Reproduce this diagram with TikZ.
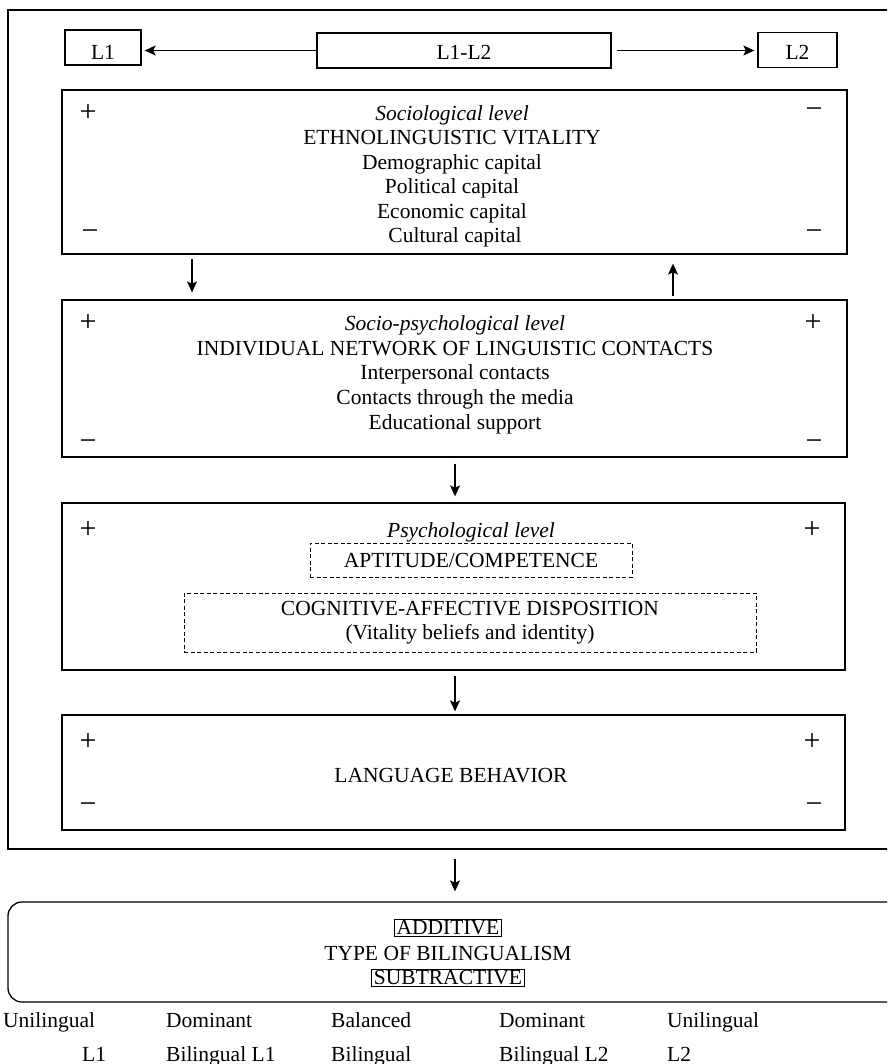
\documentclass[tikz,border=0pt]{standalone}
\usepackage{fontspec}
\setmainfont{Liberation Serif}
\usetikzlibrary{arrows.meta}
\begin{document}
\begin{tikzpicture}[x=1pt,y=-1pt,
  every node/.style={font=\fontsize{21.5}{24.5}\selectfont},
  frame/.style={draw, line width=1.3pt, inner sep=0pt},
  dbox/.style={draw, dashed, dash pattern=on 4pt off 2.5pt, line width=1pt, inner sep=0pt},
  ln/.style={anchor=base, inner sep=0pt},
  lw/.style={anchor=base west, inner sep=0pt},
  sg/.style={inner sep=0pt, font=\fontsize{30}{30}\selectfont},
  tbox/.style={draw, line width=0.9pt, inner xsep=2pt, inner ysep=1pt},
  arr/.style={-{Stealth[length=11pt,width=10pt,inset=2.5pt]}, line width=1.2pt}]
\clip (0,0) rectangle (887,1064);
% outer frame
\node[frame, minimum width=892, minimum height=839] (outer) at (454,429.5) {};
% top row
\node[frame, minimum width=76, minimum height=35] (L1) at (103,47.5) {};
\node[inner sep=0pt] (L1t) at (103,52) {L1};
\node[frame, minimum width=294, minimum height=35] (L12) at (464,50.5) {};
\node[inner sep=0pt] (L12t) at (464,52) {L1-L2};
\node[frame, minimum width=79, minimum height=35] (L2) at (797.5,50) {};
\node[inner sep=0pt] (L2t) at (797.5,52) {L2};
\draw[arr, shorten >=3pt] (L12.west) -- (L12.west -| L1.east);
\draw[arr, shorten <=5pt, shorten >=3pt] (L12.east) -- (L12.east -| L2.west);
% box 1
\node[frame, minimum width=785, minimum height=164] (b1) at (454.5,172) {};
\node[ln] (b1a) at (452,120.5) {\itshape Sociological level};
\node[ln] (b1b) at (452,144.9) {ETHNOLINGUISTIC VITALITY};
\node[ln] (b1c) at (452,169.3) {Demographic capital};
\node[ln] (b1d) at (452,193.7) {Political capital};
\node[ln] (b1e) at (452,218.1) {Economic capital};
\node[ln] (b1f) at (455,242.5) {Cultural capital};
\node[sg] (p11) at (88,113) {+};
\node[sg] (m11) at (814,113) {−};
\node[sg] (m12) at (90,235) {−};
\node[sg] (m13) at (814,235) {−};
% box 2
\node[frame, minimum width=785, minimum height=157] (b2) at (454.5,378.5) {};
\node[ln] (b2a) at (455,330.5) {\itshape Socio-psychological level};
\node[ln] (b2b) at (455,355.2) {INDIVIDUAL NETWORK OF LINGUISTIC CONTACTS};
\node[ln] (b2c) at (455,379.9) {Interpersonal contacts};
\node[ln] (b2d) at (455,404.6) {Contacts through the media};
\node[ln] (b2e) at (455,429.3) {Educational support};
\node[sg] (p21) at (88,323) {+};
\node[sg] (p22) at (813,323) {+};
\node[sg] (m21) at (88,445) {−};
\node[sg] (m22) at (814,445) {−};
% box 3
\node[frame, minimum width=783, minimum height=167] (b3) at (453.5,586.5) {};
\node[ln] (b3a) at (471,537.5) {\itshape Psychological level};
\node[dbox, minimum width=322, minimum height=34] (apt) at (471,560) {APTITUDE/COMPETENCE};
\node[dbox, minimum width=572, minimum height=59, align=center] (cog) at (470,622.5) {COGNITIVE-AFFECTIVE DISPOSITION\\(Vitality beliefs and identity)};
\node[sg] (p31) at (88,530) {+};
\node[sg] (p32) at (812,530) {+};
% box 4
\node[frame, minimum width=783, minimum height=115] (b4) at (453.5,772.5) {};
\node[ln] (b4a) at (451,782.5) {LANGUAGE BEHAVIOR};
\node[sg] (p41) at (88,742) {+};
\node[sg] (p42) at (812,742) {+};
\node[sg] (m41) at (88,808) {−};
\node[sg] (m42) at (814,808) {−};
% connectors
\coordinate (xa) at (192,0);
\coordinate (xb) at (673,0);
\coordinate (xc) at (455,0);
\draw[arr, shorten <=4pt, shorten >=7pt] (b1.south -| xa) -- (b2.north -| xa);
\draw[arr, shorten <=3pt, shorten >=9pt] (b2.north -| xb) -- (b1.south -| xb);
\draw[arr, shorten <=6pt, shorten >=6pt] (b2.south -| xc) -- (b3.north -| xc);
\draw[arr, shorten <=5pt, shorten >=3pt] (b3.south -| xc) -- (b4.north -| xc);
% result box
\node[frame, rounded corners=14pt, minimum width=892, minimum height=100] (res) at (454,952) {};
\draw[arr, shorten <=9pt, shorten >=10pt] (outer.south -| xc) -- (res.north -| xc);
\node[tbox] (add) at (448,928) {ADDITIVE};
\node[ln] (typ) at (448,960.5) {TYPE OF BILINGUALISM};
\node[tbox] (sub) at (448,978) {SUBTRACTIVE};
% bottom scale
\node[lw] (u1) at (3,1027) {Unilingual};
\node[lw] (d1) at (166,1027) {Dominant};
\node[lw] (bal) at (331,1027) {Balanced};
\node[lw] (d2) at (499,1027) {Dominant};
\node[lw] (u2) at (667,1027) {Unilingual};
\node[lw] (l1) at (82,1061) {L1};
\node[lw] (bl1) at (166,1061) {Bilingual L1};
\node[lw] (bb) at (331,1061) {Bilingual};
\node[lw] (bl2) at (499,1061) {Bilingual L2};
\node[lw] (l2) at (667,1061) {L2};
\end{tikzpicture}
\end{document}
